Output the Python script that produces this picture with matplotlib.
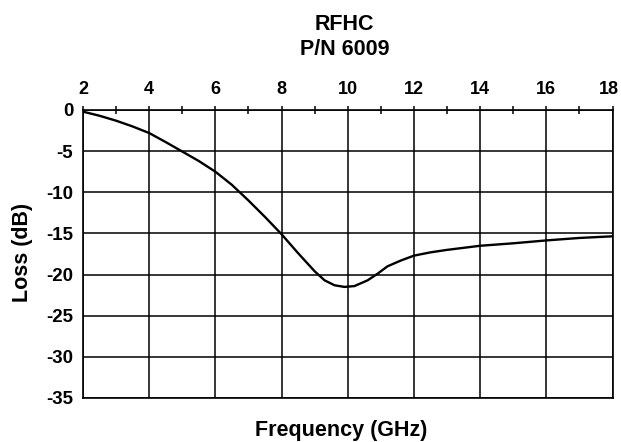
import matplotlib
matplotlib.use("Agg")
import matplotlib.pyplot as plt
import matplotlib.transforms as mtransforms
import numpy as np

freq_ghz = [2.0, 2.5, 3.0, 3.5, 4.0, 4.5, 5.0, 5.5, 6.0, 6.5, 7.0, 7.5, 8.0, 8.5, 9.0, 9.3, 9.6, 9.9, 10.2, 10.6, 10.9, 11.2, 11.6, 12.0, 12.5, 13.0, 14.0, 15.0, 16.0, 17.0, 18.0]
loss_db = [-0.2, -0.7, -1.3, -2.0, -2.8, -3.9, -5.05, -6.2, -7.5, -9.1, -11.0, -13.0, -15.1, -17.4, -19.6, -20.7, -21.3, -21.5, -21.4, -20.7, -19.9, -19.0, -18.3, -17.7, -17.3, -17.0, -16.5, -16.2, -15.85, -15.55, -15.35]

x_major = [2, 4, 6, 8, 10, 12, 14, 16, 18]
x_minor = [3, 5, 7, 9, 11, 13, 15, 17]
y_major = [0, -5, -10, -15, -20, -25, -30, -35]

plt.rcParams['font.family'] = ['Liberation Sans', 'DejaVu Sans']
plt.rcParams['font.weight'] = 'bold'

fig = plt.figure(figsize=(6.21, 4.42), dpi=100)
ax = fig.add_axes([83 / 621, 1 - 398 / 442, (612.5 - 83) / 621, (398 - 110) / 442])

ax.plot(freq_ghz, loss_db, color='black', lw=1.7)
ax.set_xlim(2, 18)
ax.set_ylim(-35, 0)

ax.xaxis.tick_top()
ax.set_xticks(x_major)
ax.set_xticks(x_minor, minor=True)
ax.set_yticks(y_major)
ax.set_xticklabels([str(v) for v in x_major], fontsize=13, fontweight='bold')
ax.set_yticklabels([str(v) for v in y_major], fontsize=13.5, fontweight='bold')
ax.tick_params(axis='x', which='major', direction='out', length=3, width=1.1, pad=6)
ax.tick_params(axis='x', which='minor', direction='inout', length=6, width=1.1)
ax.tick_params(axis='y', which='major', length=0, pad=7)

# nudge the last top label inward so it stays on the canvas
last_tick = ax.xaxis.get_major_ticks()[-1]
last_tick.label2.set_transform(last_tick.label2.get_transform() +
                               mtransforms.ScaledTranslation(-4 / 100, 0, fig.dpi_scale_trans))

ax.grid(True, which='major', color='black', lw=1.1)
for s in ax.spines.values():
    s.set_color('black')
    s.set_linewidth(1.2)

fig.text(0.555, 1 - 24.5 / 442, 'RFHC', ha='center', va='center', fontsize=15.5, fontweight='bold')
fig.text(0.555, 1 - 49.5 / 442, 'P/N 6009', ha='center', va='center', fontsize=15.5, fontweight='bold')
fig.text(0.550, 1 - 436 / 442, 'Frequency (GHz)', ha='center', va='baseline', fontsize=15.5, fontweight='bold')
fig.text(0.036, 1 - 252.5 / 442, 'Loss (dB)', ha='center', va='center', rotation=90, fontsize=15.5, fontweight='bold')

fig.savefig('out.png', dpi=100)
